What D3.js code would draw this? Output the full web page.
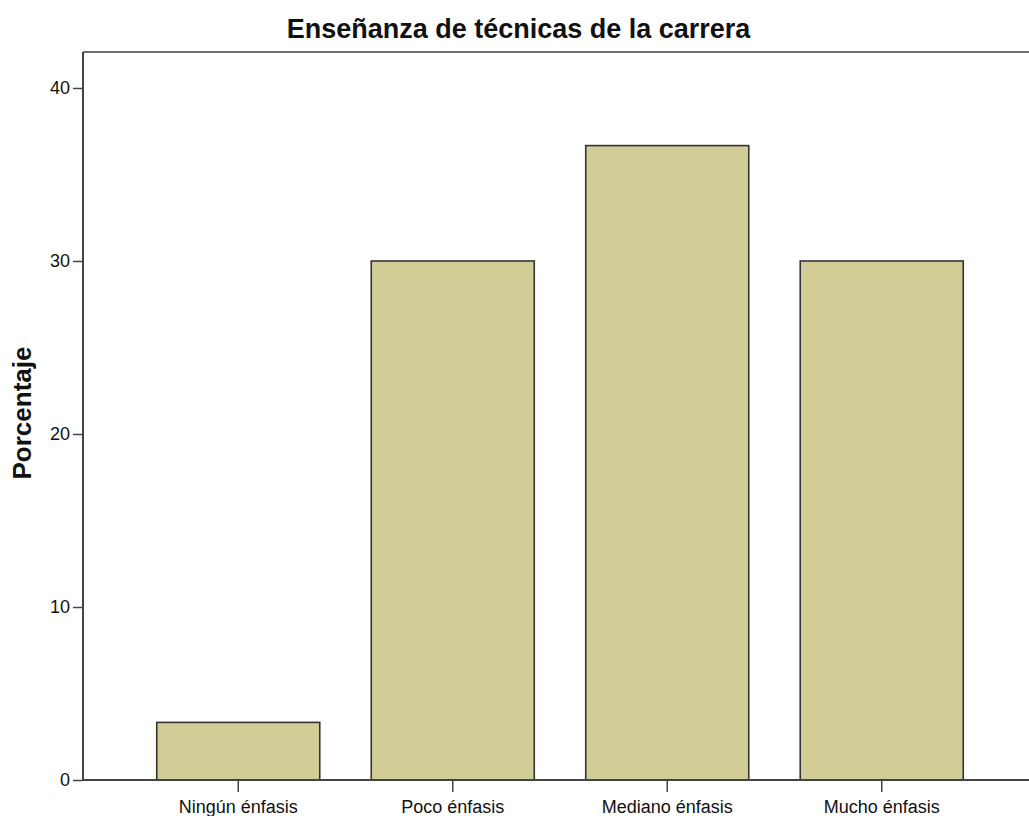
<!DOCTYPE html>
<html>
<head>
<meta charset="utf-8">
<script src="https://cdn.jsdelivr.net/npm/d3@7"></script>
<style>
  body { margin: 0; background: #fff; }
  svg { display: block; }
</style>
</head>
<body>
<script>
const categories = ["Ningún énfasis", "Poco énfasis", "Mediano énfasis", "Mucho énfasis"];
const values = [3.33, 30.0, 36.67, 30.0];
const yTicks = [0, 10, 20, 30, 40];
const title = "Enseñanza de técnicas de la carrera";
const yLabel = "Porcentaje";

const W = 1029, H = 816;
const plot = { left: 83, right: 1029, top: 52, bottom: 780 };

const svg = d3.select("body").append("svg").attr("width", W).attr("height", H);

const y = d3.scaleLinear().domain([0, 42.08]).range([plot.bottom, plot.top]);
const x = d3.scaleBand().domain(categories).range([131, 989]).paddingInner(0.24).paddingOuter(0.12);

// top frame line
svg.append("line")
  .attr("x1", plot.left).attr("x2", plot.right)
  .attr("y1", plot.top).attr("y2", plot.top)
  .attr("stroke", "#6e6e6e").attr("stroke-width", 2);

// bars
svg.append("g").selectAll("rect").data(values).join("rect")
  .attr("x", (d, i) => x(categories[i]))
  .attr("y", d => y(d))
  .attr("width", x.bandwidth())
  .attr("height", d => y(0) - y(d))
  .attr("fill", "#d2cd96")
  .attr("stroke", "#333")
  .attr("stroke-width", 1.6);

// y axis
const yAxis = svg.append("g").attr("transform", `translate(${plot.left},0)`)
  .call(d3.axisLeft(y).tickValues(yTicks).tickSize(10).tickPadding(3).tickFormat(d3.format("d")));
yAxis.select(".domain").attr("d", `M0,${plot.top}V${plot.bottom}`).attr("stroke", "#444").attr("stroke-width", 2);
yAxis.selectAll(".tick line").attr("stroke", "#444").attr("stroke-width", 1.5);
yAxis.selectAll(".tick text").attr("font-family", "Liberation Sans, Arial, sans-serif").attr("font-size", 18).attr("fill", "#111");

// x axis
const xAxis = svg.append("g").attr("transform", `translate(0,${plot.bottom})`)
  .call(d3.axisBottom(x).tickSize(12).tickPadding(8));
xAxis.select(".domain").attr("d", `M${plot.left},0H${plot.right}`).attr("stroke", "#444").attr("stroke-width", 2);
xAxis.selectAll(".tick line").attr("stroke", "#444").attr("stroke-width", 1.5);
xAxis.selectAll(".tick text").attr("font-family", "Liberation Sans, Arial, sans-serif").attr("font-size", 18).attr("fill", "#111");

// title
svg.append("text")
  .attr("x", 518.5).attr("y", 38)
  .attr("text-anchor", "middle")
  .attr("font-family", "Liberation Sans, Arial, sans-serif")
  .attr("font-weight", "bold").attr("font-size", 27).attr("fill", "#111")
  .text(title);

// y label
svg.append("text")
  .attr("transform", "translate(31,413) rotate(-90)")
  .attr("text-anchor", "middle")
  .attr("font-family", "Liberation Sans, Arial, sans-serif")
  .attr("font-weight", "bold").attr("font-size", 26).attr("fill", "#111")
  .text(yLabel);
</script>
</body>
</html>
